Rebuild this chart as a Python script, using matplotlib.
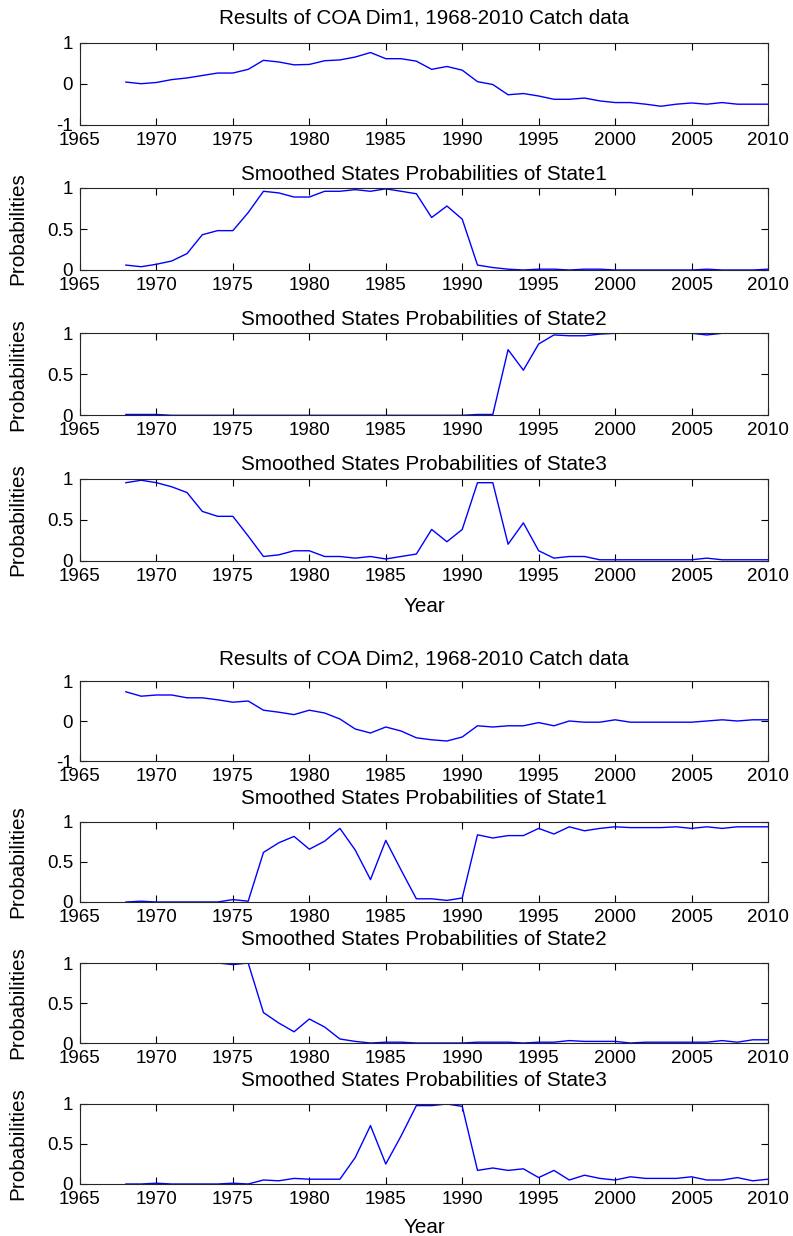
import matplotlib
matplotlib.use("Agg")
import matplotlib.pyplot as plt

plt.rcParams['font.family'] = ['Liberation Sans', 'DejaVu Sans']

years = list(range(1968, 2011))

# COA dimension 1
dim1 = [0.04, 0.00, 0.03, 0.10, 0.14, 0.20, 0.26, 0.26, 0.35, 0.57,
        0.53, 0.46, 0.47, 0.56, 0.58, 0.65, 0.76, 0.61, 0.61, 0.55,
        0.35, 0.42, 0.33, 0.05, -0.02, -0.27, -0.24, -0.30, -0.38, -0.38,
        -0.35, -0.42, -0.46, -0.46, -0.50, -0.55, -0.50, -0.47, -0.50, -0.46,
        -0.50, -0.50, -0.50]
dim1_s1 = [0.06, 0.04, 0.07, 0.11, 0.20, 0.43, 0.48, 0.48, 0.70, 0.96,
           0.94, 0.89, 0.89, 0.96, 0.96, 0.98, 0.96, 0.99, 0.96, 0.93,
           0.64, 0.78, 0.62, 0.06, 0.03, 0.01, 0.00, 0.01, 0.01, 0.00,
           0.01, 0.01, 0.00, 0.00, 0.00, 0.00, 0.00, 0.00, 0.01, 0.00,
           0.00, 0.00, 0.01]
dim1_s2 = [0.01, 0.01, 0.01, 0.00, 0.00, 0.00, 0.00, 0.00, 0.00, 0.00,
           0.00, 0.00, 0.00, 0.00, 0.00, 0.00, 0.00, 0.00, 0.00, 0.00,
           0.00, 0.00, 0.00, 0.01, 0.01, 0.80, 0.55, 0.87, 0.98, 0.97,
           0.97, 0.99, 1.00, 1.00, 1.00, 1.00, 1.00, 1.00, 0.98, 1.00,
           1.00, 1.00, 1.00]
dim1_s3 = [0.95, 0.98, 0.95, 0.90, 0.83, 0.60, 0.54, 0.54, 0.30, 0.05,
           0.07, 0.12, 0.12, 0.05, 0.05, 0.03, 0.05, 0.02, 0.05, 0.08,
           0.38, 0.23, 0.38, 0.95, 0.95, 0.20, 0.46, 0.12, 0.03, 0.05,
           0.05, 0.01, 0.01, 0.01, 0.01, 0.01, 0.01, 0.01, 0.03, 0.01,
           0.01, 0.01, 0.01]

# COA dimension 2
dim2 = [0.73, 0.62, 0.65, 0.65, 0.58, 0.58, 0.53, 0.47, 0.50, 0.27,
        0.22, 0.16, 0.27, 0.20, 0.05, -0.20, -0.30, -0.15, -0.25, -0.42,
        -0.47, -0.50, -0.40, -0.12, -0.15, -0.12, -0.12, -0.04, -0.12, 0.00,
        -0.03, -0.03, 0.03, -0.03, -0.03, -0.03, -0.03, -0.03, 0.00, 0.03,
        0.00, 0.03, 0.03]
dim2_s1 = [0.00, 0.01, 0.00, 0.00, 0.00, 0.00, 0.00, 0.03, 0.01, 0.62,
           0.74, 0.82, 0.66, 0.76, 0.92, 0.65, 0.28, 0.77, 0.40, 0.04,
           0.04, 0.02, 0.05, 0.84, 0.80, 0.83, 0.83, 0.92, 0.85, 0.94,
           0.89, 0.92, 0.94, 0.93, 0.93, 0.93, 0.94, 0.92, 0.94, 0.92,
           0.94, 0.94, 0.94]
dim2_s2 = [1.00, 1.00, 1.00, 1.00, 1.00, 1.00, 1.00, 0.98, 1.00, 0.38,
           0.25, 0.14, 0.30, 0.20, 0.05, 0.02, 0.00, 0.01, 0.01, 0.00,
           0.00, 0.00, 0.00, 0.01, 0.01, 0.01, 0.00, 0.01, 0.01, 0.03,
           0.02, 0.02, 0.02, 0.00, 0.01, 0.01, 0.01, 0.01, 0.01, 0.03,
           0.01, 0.04, 0.04]
dim2_s3 = [0.00, 0.00, 0.01, 0.00, 0.00, 0.00, 0.00, 0.01, 0.00, 0.05,
           0.04, 0.07, 0.06, 0.06, 0.06, 0.33, 0.73, 0.25, 0.60, 0.98,
           0.98, 1.00, 0.97, 0.17, 0.20, 0.17, 0.19, 0.08, 0.17, 0.05,
           0.11, 0.07, 0.05, 0.09, 0.07, 0.07, 0.07, 0.09, 0.05, 0.05,
           0.08, 0.04, 0.06]

groups = [
    ("Results of COA Dim1, 1968-2010 Catch data", [dim1, dim1_s1, dim1_s2, dim1_s3]),
    ("Results of COA Dim2, 1968-2010 Catch data", [dim2, dim2_s1, dim2_s2, dim2_s3]),
]
state_titles = ["Smoothed States Probabilities of State1",
                "Smoothed States Probabilities of State2",
                "Smoothed States Probabilities of State3"]

W, H = 793, 1236
fig = plt.figure(figsize=(W / 100, H / 100), dpi=100)

# pixel layout per group: first top, spacing, height, title pads, xlabel pad
layout = [(42.7, 145.3, 82, 14, 6, 9), (681, 141, 80, 12, 13, 7)]
left, width = 80, 688
fs = 13.5
fs_big = fs * 1.1

for (main_title, series), (top0, step, h, pad_main, pad_st, pad_x) in zip(groups, layout):
    for i, vals in enumerate(series):
        top = top0 + i * step
        ax = fig.add_axes([left / W, 1 - (top + h) / H, width / W, h / H])
        ax.plot(years, vals, color='#0000ff', lw=1.0)
        ax.set_xlim(1965, 2010)
        ax.set_xticks(range(1965, 2011, 5))
        if i == 0:
            ax.set_ylim(-1, 1)
            ax.set_yticks([-1, 0, 1])
            ax.set_yticklabels(['-1', '0', '1'])
            ax.set_title(main_title, fontsize=fs_big, pad=pad_main)
        else:
            ax.set_ylim(0, 1)
            ax.set_yticks([0, 0.5, 1])
            ax.set_yticklabels(['0', '0.5', '1'])
            ax.set_title(state_titles[i - 1], fontsize=fs_big, pad=pad_st)
            ax.set_ylabel('Probabilities', fontsize=fs_big)
            ax.yaxis.set_label_coords(-0.077, 0.5)
        if i == 3:
            ax.set_xlabel('Year', fontsize=fs_big, labelpad=pad_x)
        ax.tick_params(direction='in', top=True, right=True, length=5,
                       width=0.8, labelsize=fs)
        ax.tick_params(axis='x', pad=5)
        ax.tick_params(axis='y', pad=5)
        for sp in ax.spines.values():
            sp.set_linewidth(0.8)
            sp.set_color('#262626')

fig.savefig('out.png', dpi=100)
